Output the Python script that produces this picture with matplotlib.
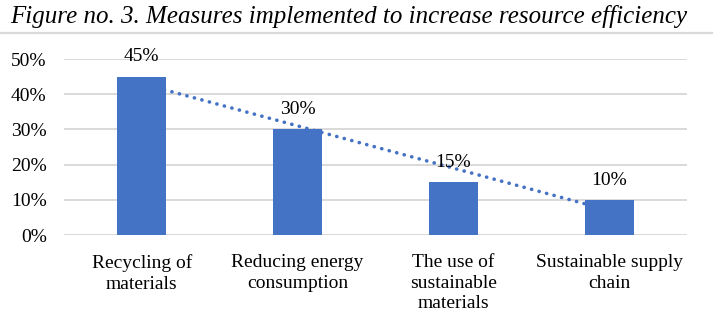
import matplotlib
matplotlib.use("Agg")
import matplotlib.pyplot as plt
import numpy as np
from matplotlib.lines import Line2D

title = "Figure no. 3. Measures implemented to increase resource efficiency"
categories = ["Recycling of\nmaterials", "Reducing energy\nconsumption",
              "The use of\nsustainable\nmaterials", "Sustainable supply\nchain"]
values = [45, 30, 15, 10]
yticks = [0, 10, 20, 30, 40, 50]

plt.rcParams['font.family'] = ['Liberation Serif', 'DejaVu Serif']

W, H = 713, 328
fig = plt.figure(figsize=(W / 100, H / 100), dpi=100)
ax = fig.add_axes([64 / W, (H - 235) / H, (687 - 64) / W, (235 - 59) / H])

x = np.arange(len(values))
blue = "#4472C4"
ax.bar(x, values, width=0.315, color=blue, zorder=3)

# linear trendline computed from data
coef = np.polyfit(x, values, 1)
ax.plot(x, np.polyval(coef, x), color=blue, lw=2.6, linestyle=(0, (0.05, 2.1)),
        dash_capstyle='round', zorder=2)

fs = 14
for xi, v in zip(x, values):
    ax.annotate(f"{v}%", (xi, v), xytext=(0, 11), textcoords='offset points',
                ha='center', va='baseline', fontsize=fs, color='#000000',
                zorder=4, annotation_clip=False)

ax.set_xlim(-0.5, len(values) - 0.5)
ax.set_ylim(0, 50)
ax.set_yticks(yticks)
ax.set_yticklabels([f"{t}%" for t in yticks], fontsize=fs)
ax.set_xticks(x)
ax.set_xticklabels(categories, fontsize=fs, linespacing=1.27, va='top')
ax.tick_params(axis='both', length=0)
ax.tick_params(axis='y', pad=12.5)
ax.tick_params(axis='x', pad=14)
ax.grid(axis='y', color='#D9D9D9', lw=1.4, zorder=0)
for s in ax.spines.values():
    s.set_visible(False)

fig.text(0.489, (H - 17) / H, title, ha='center', va='center', fontsize=18,
         style='italic')
fig.add_artist(Line2D([0, 1], [(H - 32.5) / H] * 2, color='#D9D9D9', lw=1.6,
                      transform=fig.transFigure))

fig.savefig("out.png", dpi=100)
